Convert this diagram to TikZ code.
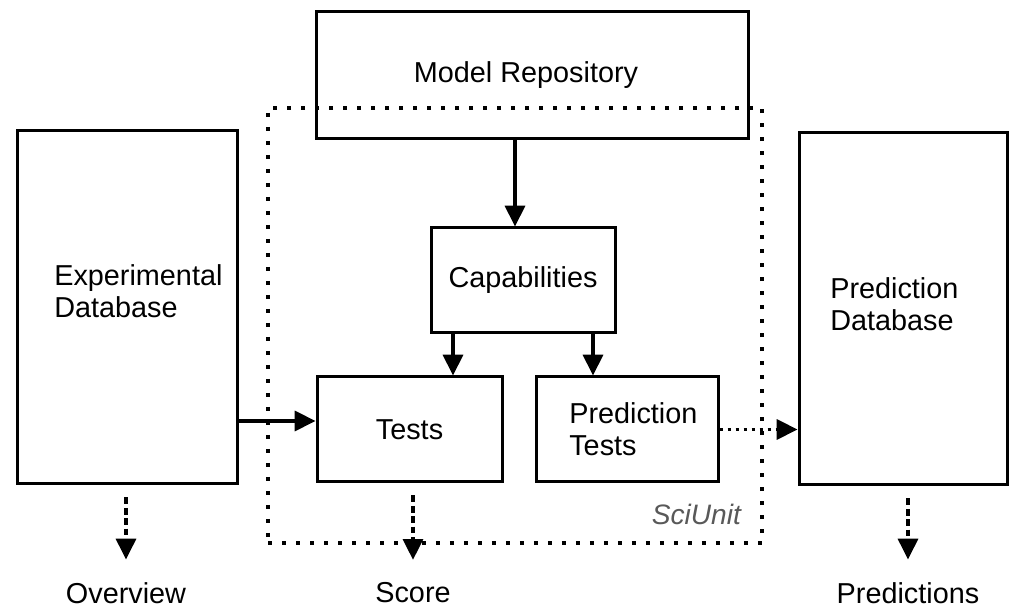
\documentclass[tikz,border=0pt]{standalone}
\usepackage{fontspec}
\setmainfont{Liberation Sans}
\usetikzlibrary{positioning,calc,arrows.meta}

\begin{document}
\begin{tikzpicture}[font=\fontsize{20.5}{22.7}\selectfont,
  box/.style={draw,line width=0.075cm,inner sep=0pt},
  arr/.style={line width=0.085cm,-{Triangle[length=0.52cm,width=0.5cm]}},
  dasharr/.style={arr,dash pattern=on 0.17cm off 0.09cm},
  dotarr/.style={arr,dash pattern=on 0.075cm off 0.125cm}]
\useasboundingbox (0,0) rectangle (25.6,15.225);
\fill[white] (0,0) rectangle (25.6,15.225);

% SciUnit frame
\node[draw,line width=0.09cm,dash pattern=on 0.09cm off 0.26cm,minimum width=12.35cm,minimum height=10.875cm] (sciunit) at (12.875,7.0875) {};
\node[anchor=east,text=black!65,font=\fontsize{20}{22}\selectfont\itshape] (sciunitlbl) at ([xshift=-0.45cm,yshift=0.75cm]sciunit.south east) {SciUnit};

\node[box,minimum width=10.8cm,minimum height=3.175cm] (repo) at (13.3,13.35) {\hspace*{-0.3cm}Model Repository};
\node[box,minimum width=5.5cm,minimum height=8.825cm] (expdb) at (3.175,7.5375) {};
\node[anchor=west,align=left,inner sep=0pt] (expdbtxt) at (1.35,7.95) {Experimental\\Database};
\node[box,minimum width=4.6cm,minimum height=2.625cm] (caps) at (13.075,8.2125) {Capabilities};
\node[box,minimum width=4.625cm,minimum height=2.625cm] (tests) at (10.2375,4.4875) {Tests};
\node[box,minimum width=4.55cm,minimum height=2.625cm] (ptests) at (15.675,4.4875) {};
\node[anchor=west,align=left,inner sep=0pt] (pteststxt) at (14.225,4.5) {Prediction\\Tests};
\node[box,minimum width=5.2cm,minimum height=8.8cm] (preddb) at (22.575,7.5) {};
\node[anchor=west,align=left,inner sep=0pt] (preddbtxt) at (20.75,7.625) {Prediction\\Database};

\node (overview) at (3.15,0.4) {Overview};
\node (score) at (10.325,0.4) {Score};
\node (predictions) at (22.7,0.4) {Predictions};

\draw[arr] ([xshift=-0.2cm]caps.north |- repo.south) -- ([xshift=-0.2cm]caps.north);
\draw[arr] ([xshift=1.0875cm]tests.north |- caps.south) -- ([xshift=1.0875cm]tests.north);
\draw[arr] ([xshift=-0.85cm]ptests.north |- caps.south) -- ([xshift=-0.85cm]ptests.north);
\draw[arr] ([yshift=0.2125cm]tests.west -| expdb.east) -- ([yshift=0.2125cm]tests.west);
\draw[dotarr] (ptests.east) -- (ptests.east -| preddb.west);

\draw[dasharr,shorten >=0.45cm] ([yshift=-0.3cm]overview.north |- expdb.south) -- (overview.north);
\draw[dasharr,shorten >=0.45cm] ([yshift=-0.3cm]score.north |- tests.south) -- (score.north);
\draw[dasharr,shorten >=0.45cm] ([yshift=-0.3cm]predictions.north |- preddb.south) -- (predictions.north);

\end{tikzpicture}
\end{document}
